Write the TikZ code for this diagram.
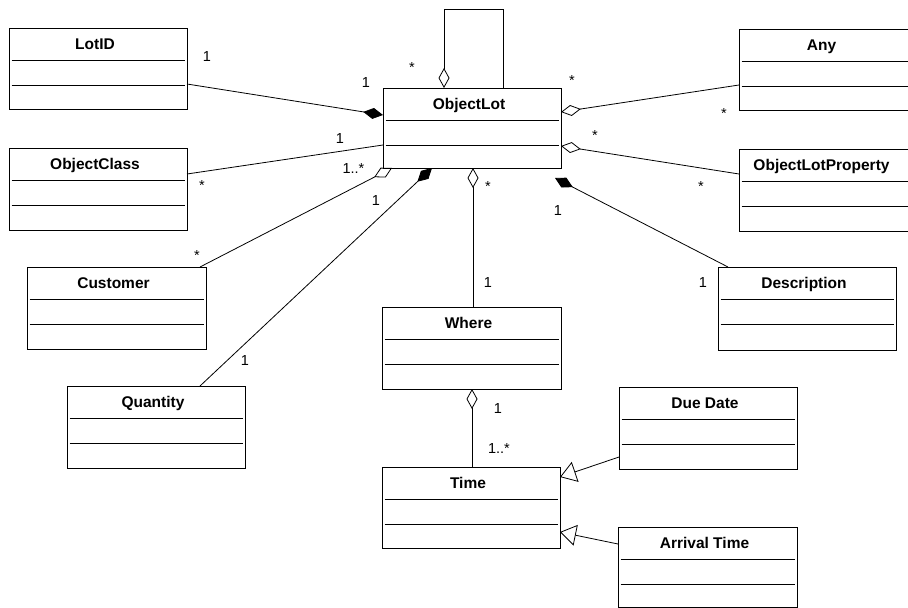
\documentclass[tikz,border=0pt]{standalone}
\usepackage{fontspec}
\setmainfont{Liberation Sans}
\usetikzlibrary{arrows.meta,calc}
\tikzset{
  clsbox/.style={draw, line width=1pt, rectangle, inner sep=0pt, outer sep=0pt},
  divline/.style={line width=0.9pt},
  clsname/.style={font=\bfseries\fontsize{15.5}{18}\selectfont, anchor=base, inner sep=0pt},
  mult/.style={font=\fontsize{14.5}{17}\selectfont, anchor=base, inner sep=0pt},
  assoc/.style={line width=0.8pt},
  aggr/.style={assoc, {Diamond[open, length=20pt, width=11pt]}-},
  comp/.style={assoc, {Diamond[length=20pt, width=11pt]}-},
  gen/.style={assoc, {Triangle[open, length=16pt, width=21pt]}-},
}
\newcommand\umlclass[6]{%
  \node[clsbox, minimum width={#4-#2}, minimum height={#5-#3}] (#1) at ({(#2+#4)/2},{(#3+#5)/2}) {};
  \draw[divline] ($(#1.north west)+(2.5,32)$) -- ($(#1.north east)+(-2.5,32)$);
  \draw[divline] ($(#1.north west)+(2.5,57)$) -- ($(#1.north east)+(-2.5,57)$);
  \node[clsname] (#1-name) at ($(#1.north)+(-3,21.5)$) {#6};
}
\begin{document}
\begin{tikzpicture}[x=1pt,y=-1pt]
\useasboundingbox (0,0) rectangle (908,608);
\fill[white] (0,0) rectangle (908,608);
\clip (0,0) rectangle (908,608);

% classes
\umlclass{lotid}{9}{28}{187}{109}{LotID}
\umlclass{objclass}{9}{148}{187}{230}{ObjectClass}
\umlclass{customer}{27}{267}{206}{349}{Customer}
\umlclass{quantity}{67}{386}{245}{468}{Quantity}
\umlclass{objlot}{383}{88}{561}{168}{ObjectLot}
\umlclass{where}{382}{307}{561}{389}{Where}
\umlclass{time}{382}{467}{560}{548}{Time}
\umlclass{any}{739}{29}{910}{110}{Any}
\umlclass{olp}{739}{149}{910}{231}{ObjectLotProperty}
\umlclass{descr}{718}{267}{896}{350}{Description}
\umlclass{duedate}{619}{387}{797}{469}{Due Date}
\umlclass{arrival}{618}{527}{797}{607}{Arrival Time}

% connectors
\draw[comp] ($(objlot.north west)+(0,27)$) -- ($(lotid.north east)+(0,56)$);
\draw[assoc] ($(objclass.north east)+(0,26)$) -- ($(objlot.north west)+(0,57)$);
\draw[aggr] ($(objlot.south west)+(9,0)$) -- ($(customer.north east)+(-6,0)$);
\draw[comp] ($(objlot.south west)+(49,0)$) -- ($(quantity.north west)+(133,0)$);
\draw[aggr] ($(objlot.north west)+(61,0)$) -- ++(0,-79) -| ($(objlot.north west)+(120,0)$);
\draw[aggr] ($(objlot.south west)+(90,0)$) -- ($(where.north west)+(91,0)$);
\coordinate (dtip) at ($(objlot.south east)+(-6,10)$);
\draw[comp] (dtip) -- ($(descr.north west)+(10,0)$);
\draw[aggr] ($(objlot.north east)+(0,24)$) -- ($(any.north west)+(0,56)$);
\draw[aggr] ($(objlot.north east)+(0,58)$) -- ($(olp.north west)+(0,25)$);
\draw[aggr] ($(where.south west)+(90,0)$) -- ($(time.north west)+(90,0)$);
\draw[gen] ($(time.north east)+(0,10)$) -- ($(duedate.north west)+(0,70)$);
\draw[gen] ($(time.north east)+(0,65)$) -- ($(arrival.north west)+(0,17)$);

% multiplicities
\node[mult] (m1) at (207,61) {1};
\node[mult] (m2) at (366,87) {1};
\node[mult] (m3) at (412,72) {*};
\node[mult] (m4) at (340,143) {1};
\node[mult] (m5) at (202,190.5) {*};
\node[mult] (m6) at (353.5,173) {1..*};
\node[mult] (m7) at (197,260) {*};
\node[mult] (m8) at (376,205) {1};
\node[mult] (m9) at (245,365) {1};
\node[mult] (m10) at (488,191) {*};
\node[mult] (m11) at (488,287) {1};
\node[mult] (m12) at (558,215) {1};
\node[mult] (m13) at (703,287) {1};
\node[mult] (m14) at (572,85.5) {*};
\node[mult] (m15) at (724,118) {*};
\node[mult] (m16) at (595,140.5) {*};
\node[mult] (m17) at (701,191) {*};
\node[mult] (m18) at (498,413) {1};
\node[mult] (m19) at (499,453) {1..*};
\end{tikzpicture}
\end{document}
